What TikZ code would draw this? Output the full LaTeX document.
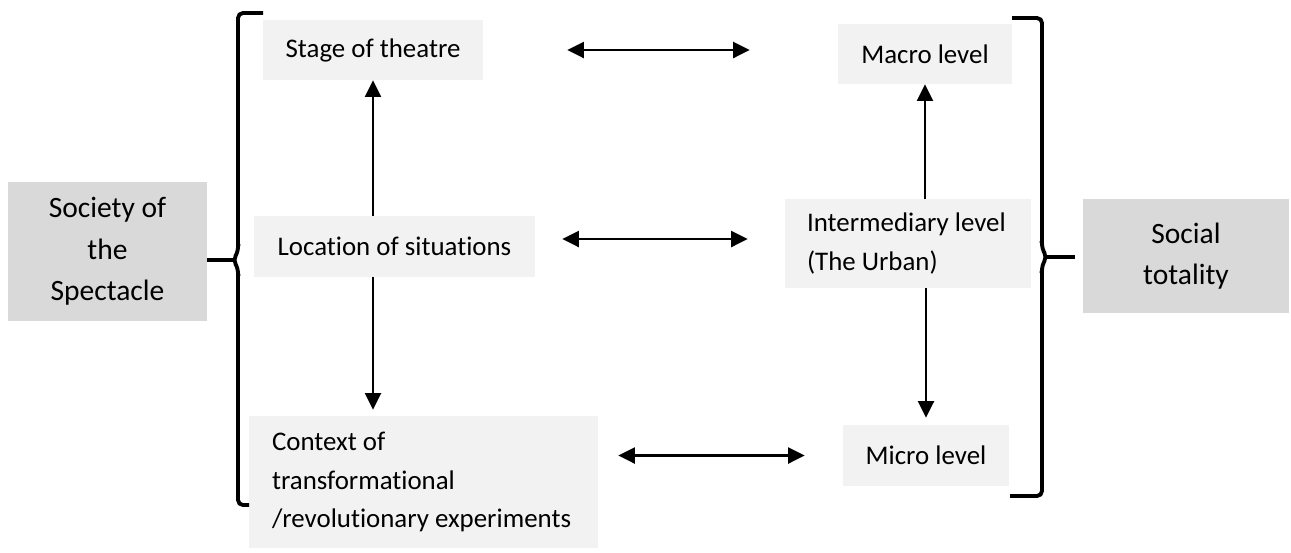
\documentclass[tikz,border=0pt]{standalone}
\usepackage{fontspec}
\setmainfont{Carlito}[Ligatures=NoCommon]
\usetikzlibrary{calc,arrows.meta}
\definecolor{levelcolorc}{HTML}{F2F2F2}
\definecolor{sidecolorc}{HTML}{D9D9D9}
\colorlet{levelcolor}{levelcolorc}
\colorlet{sidecolor}{sidecolorc}
\tikzstyle{levelbox} = [
    fill=levelcolor,
    rectangle,
    inner sep=0pt,
    font=\fontsize{15.3}{21.8}\selectfont
    ]
\tikzstyle{sidebox} = [
    fill=sidecolor,
    rectangle,
    inner sep=0pt,
    align=center,
    font=\fontsize{16.8}{23.6}\selectfont
    ]
\tikzstyle{bracket} = [
    line width=2.2pt,
    rounded corners=0.1cm
    ]
\tikzstyle{link} = [
    line width=1.2pt,
    -{Triangle[length=0.33cm,width=0.32cm]}
    ]
\tikzstyle{twoway} = [
    link,
    {Triangle[length=0.33cm,width=0.32cm]}-{Triangle[length=0.33cm,width=0.32cm]}
    ]

\begin{document}
\begin{tikzpicture}[x=0.02cm,y=-0.02cm]
\useasboundingbox (0,0) rectangle (1291,552);

% outer blocks
\node[sidebox, minimum width=3.98cm, minimum height=2.78cm] (soc) at (107.5,251.5) {Society of\\the\\Spectacle};
\node[sidebox, minimum width=4.12cm, minimum height=2.28cm] (tot) at (1186,256) {Social\\totality};

% left column
\node[levelbox, minimum width=4.4cm, minimum height=1.2cm] (stage) at (373,50) {Stage of theatre};
\node[levelbox, minimum width=5.62cm, minimum height=1.22cm] (loc) at (394.5,246.5) {Location of situations};
\node[levelbox, text width=6.06cm, inner xsep=0.46cm, align=flush left, minimum height=2.64cm] (ctx) at (423.5,482)
    {Context of\\transformational\\/revolutionary experiments};

% right column
\node[levelbox, minimum width=3.48cm, minimum height=1.2cm] (macro) at (925,54) {Macro level};
\node[levelbox, text width=4.04cm, inner xsep=0.44cm, align=flush left, minimum height=1.78cm] (inter) at (908,243.5)
    {Intermediary level\\(The Urban)};
\node[levelbox, minimum width=3.32cm, minimum height=1.22cm] (micro) at (926,455.5) {Micro level};

% brackets
\draw[bracket] (263,13) -- (238,13) -- (238,252) -- (233,260) -- (238,268) -- (238,505) -- (249,505);
\draw[bracket] (234,260) -- (soc.east |- 0,260);
\draw[bracket] (1012,18) -- (1042,18) -- (1042,249) -- (1047,257) -- (1042,265) -- (1042,496) -- (1010,496);
\draw[bracket] (1046,257) -- (1075,257);

% vertical links
\draw[link] (loc.north -| stage.south) -- (stage.south);
\draw[link, shorten >=0.12cm] (loc.south -| stage.south) -- (ctx.north -| stage.south);
\draw[link] (inter.north -| macro.south) -- (macro.south);
\draw[link, shorten >=0.14cm] (inter.south -| micro.north) -- (micro.north);

% horizontal links
\draw[twoway, shorten <=1.68cm, shorten >=1.76cm] (stage.east) -- (stage.east -| macro.west);
\draw[twoway, shorten <=0.54cm, shorten >=0.74cm] ([yshift=0.15cm]loc.east) -- ([yshift=0.15cm]loc.east -| inter.west);
\draw[twoway, shorten <=0.4cm, shorten >=0.76cm] (micro.west -| ctx.east) -- (micro.west);
\end{tikzpicture}
\end{document}
